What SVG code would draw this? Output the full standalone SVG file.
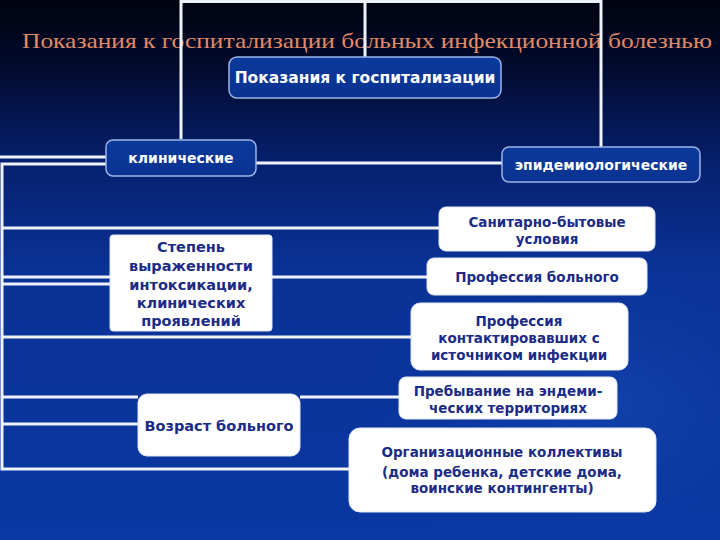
<svg xmlns="http://www.w3.org/2000/svg" width="720" height="540" viewBox="0 0 720 540">
<defs>
<linearGradient id="bg" x1="0" y1="0" x2="0" y2="1">
<stop offset="0" stop-color="#00030f"/>
<stop offset="0.12" stop-color="#020a2c"/>
<stop offset="0.3" stop-color="#06206e"/>
<stop offset="0.5" stop-color="#0a3296"/>
<stop offset="1" stop-color="#0a37a2"/>
</linearGradient>
<linearGradient id="bluebox" x1="0" y1="0" x2="0" y2="1">
<stop offset="0" stop-color="#0a3a9c"/>
<stop offset="1" stop-color="#0a3290"/>
</linearGradient>
<radialGradient id="swoosh" cx="0.85" cy="0.75" r="0.35">
<stop offset="0" stop-color="#1a4cb8" stop-opacity="0.5"/>
<stop offset="1" stop-color="#0a37a2" stop-opacity="0"/>
</radialGradient>
</defs>
<style>
.title{font-family:"Liberation Serif","Times New Roman",serif;font-size:22px;fill:#e08a68}
.line{stroke:#eef2fb;stroke-width:3;fill:none}
.bb{fill:url(#bluebox);stroke:#9db4e6;stroke-width:1.5}
.wb{fill:#ffffff;stroke:#dfe6f5;stroke-width:1}
.bt{font-family:"DejaVu Sans",sans-serif;font-weight:bold;font-size:14px;fill:#ffffff;text-anchor:middle}
.wt{font-family:"DejaVu Sans",sans-serif;font-weight:bold;font-size:13.5px;fill:#1b2b86;text-anchor:middle}
.big{font-size:15.5px}
.mid{font-size:14.5px}
</style>
<rect width="720" height="540" fill="url(#bg)"/>
<rect width="720" height="540" fill="url(#swoosh)"/>
<text class="title" x="22" y="48" textLength="690" lengthAdjust="spacingAndGlyphs">Показания к госпитализации больных инфекционной болезнью</text>
<g id="connectors">
<path class="line" d="M181 139 V1.5 H601 V147"/>
<path class="line" d="M365 1.5 V57"/>
<path class="line" d="M0 157 H106"/>
<path class="line" d="M256 163 H502"/>
<path class="line" d="M106 164 H2 V469 H349"/>
<path class="line" d="M2 228 H440"/>
<path class="line" d="M2 277 H110"/>
<path class="line" d="M2 284 H110"/>
<path class="line" d="M272 277 H427"/>
<path class="line" d="M2 337 H411"/>
<path class="line" d="M2 397 H138"/>
<path class="line" d="M300 397 H399"/>
<path class="line" d="M2 424 H138"/>
</g>
<g id="n-main">
<rect class="bb" x="229" y="57" width="272" height="41" rx="8"/>
<text class="bt big" x="365" y="83">Показания к госпитализации</text>
</g>
<g id="n-clin">
<rect class="bb" x="106" y="140" width="150" height="36" rx="7"/>
<text class="bt" x="181" y="163">клинические</text>
</g>
<g id="n-epid">
<rect class="bb" x="502" y="147" width="198" height="35" rx="7"/>
<text class="bt" x="601" y="170">эпидемиологические</text>
</g>
<g id="n-san">
<rect class="wb" x="439" y="207" width="216" height="44" rx="7"/>
<text class="wt" x="547" y="227">Санитарно-бытовые</text>
<text class="wt" x="547" y="244">условия</text>
</g>
<g id="n-step">
<rect class="wb" x="110" y="235" width="162" height="96" rx="3"/>
<text class="wt mid" x="191" y="252">Степень</text>
<text class="wt mid" x="191" y="271">выраженности</text>
<text class="wt mid" x="191" y="290">интоксикации,</text>
<text class="wt mid" x="191" y="308">клинических</text>
<text class="wt mid" x="191" y="326">проявлений</text>
</g>
<g id="n-prof">
<rect class="wb" x="427" y="258" width="220" height="37" rx="7"/>
<text class="wt" x="537" y="282">Профессия больного</text>
</g>
<g id="n-kont">
<rect class="wb" x="411" y="303" width="217" height="67" rx="9"/>
<text class="wt" x="519" y="326">Профессия</text>
<text class="wt" x="519" y="343">контактировавших с</text>
<text class="wt" x="519" y="360">источником инфекции</text>
</g>
<g id="n-preb">
<rect class="wb" x="399" y="377" width="218" height="42" rx="7"/>
<text class="wt" x="508" y="396">Пребывание на эндеми-</text>
<text class="wt" x="508" y="413">ческих территориях</text>
</g>
<g id="n-voz">
<rect class="wb" x="138" y="394" width="162" height="62" rx="9"/>
<text class="wt mid" x="219" y="431">Возраст больного</text>
</g>
<g id="n-org">
<rect class="wb" x="349" y="428" width="307" height="84" rx="11"/>
<text class="wt" x="502" y="457">Организационные коллективы</text>
<text class="wt" x="502" y="477">(дома ребенка, детские дома,</text>
<text class="wt" x="502" y="493">воинские контингенты)</text>
</g>
</svg>
